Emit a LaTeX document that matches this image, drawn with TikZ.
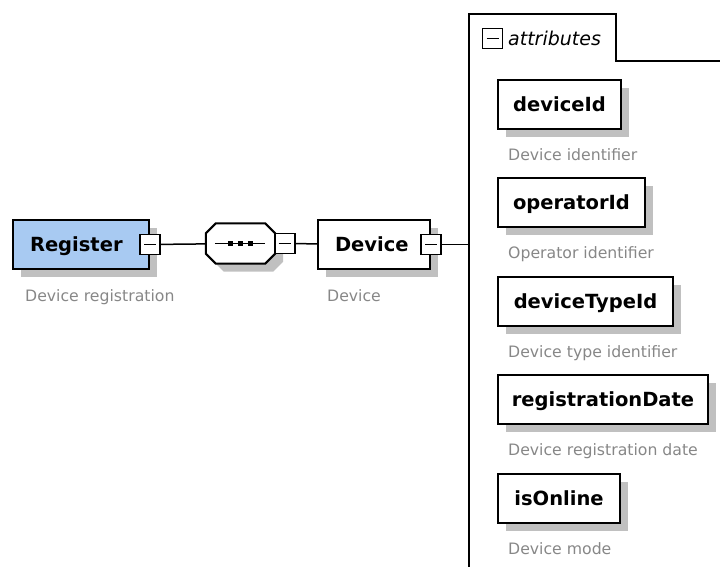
\documentclass[tikz,border=0pt]{standalone}
\usepackage{fontspec}
\setmainfont{DejaVu Sans}
\usetikzlibrary{shadows}
\definecolor{regblue}{RGB}{168,202,242}
\definecolor{shadowgray}{RGB}{192,192,192}
\definecolor{notegray}{RGB}{135,135,135}

\begin{document}
\begin{tikzpicture}[x=1pt,y=-1pt,
  elem/.style={draw=black, line width=2pt, fill=white, inner sep=0pt,
    minimum height=49pt, text height=14pt, text depth=0pt, anchor=north west,
    font=\fontsize{19.5}{22}\selectfont\bfseries,
    drop shadow={shadow xshift=8pt, shadow yshift=-8pt, fill=shadowgray, opacity=1}},
  padded/.style={text width=#1, align=left, inner xsep=17pt},
  note/.style={anchor=base west, inner sep=0pt, text=notegray,
    font=\fontsize{15.7}{18}\selectfont},
  tog/.style={draw=black, fill=white, line width=1.7pt, minimum size=20pt, inner sep=0pt,
    path picture={\draw[line width=1.7pt]
      ([xshift=4pt]path picture bounding box.west) --
      ([xshift=-4pt]path picture bounding box.east);}},
  wire/.style={line width=1.5pt}
]
\useasboundingbox (0,0) rectangle (720,566);

% root element
\node[elem, padded=102pt, fill=regblue] (reg) at (12,219) {Register};
\node[note] (regd) at ([shift={(13,31)}]reg.south west) {Device registration};

% sequence compositor
\node[minimum width=69pt, minimum height=40pt, inner sep=0pt] (seq) at (240.5,243.5) {};
\draw[line width=2pt, fill=white,
      drop shadow={shadow xshift=8pt, shadow yshift=-8pt, fill=shadowgray, opacity=1}]
  ([shift={(0,10)}]seq.north west) -- ([shift={(10,0)}]seq.north west)
  -- ([shift={(-10,0)}]seq.north east) -- ([shift={(0,10)}]seq.north east)
  -- ([shift={(0,-10)}]seq.south east) -- ([shift={(-10,0)}]seq.south east)
  -- ([shift={(10,0)}]seq.south west) -- ([shift={(0,-10)}]seq.south west) -- cycle;
\draw[wire] ([xshift=9pt]seq.west) -- ([xshift=-10pt]seq.east);
\foreach \k in {-10,0,10}
  \fill ([shift={(\k-2.5,-2.5)}]seq.center) rectangle +(5,5);

% child element
\node[elem, padded=78pt] (dev) at (317,219) {Device};
\node[note] (devd) at ([shift={(10,31)}]dev.south west) {Device};

% toggles
\node[tog] (regm) at (reg.east) {};
\node[tog] (seqm) at ([xshift=9.5pt]seq.east) {};
\node[tog] (devm) at (dev.east) {};

% attribute group
\coordinate (grp) at (469,14);
\draw[line width=2pt] (469,580) -- (grp) -- (616,14) -- (616,61) -- (730,61);
\node[tog] (attm) at (492.5,38.5) {};
\node[anchor=base west, inner sep=0pt, font=\fontsize{19}{22}\selectfont\itshape]
  (attl) at (508,45) {attributes};

% connectors
\draw[wire] (regm) -- (seq);
\draw[wire] (seqm) -- (dev);
\draw[wire] (devm) -- (devm -| grp);

% attributes
\node[elem, minimum width=123pt] (a1) at (497,79) {deviceId};
\node[note] at ([shift={(11,30)}]a1.south west) {Device identifier};
\node[elem, minimum width=147pt] (a2) at (497,177) {operatorId};
\node[note] at ([shift={(11,30)}]a2.south west) {Operator identifier};
\node[elem, minimum width=175pt] (a3) at (497,276) {deviceTypeId};
\node[note] at ([shift={(11,30)}]a3.south west) {Device type identifier};
\node[elem, minimum width=210pt] (a4) at (497,374) {registrationDate};
\node[note] at ([shift={(11,30)}]a4.south west) {Device registration date};
\node[elem, minimum width=122pt] (a5) at (497,473) {isOnline};
\node[note] at ([shift={(11,30)}]a5.south west) {Device mode};
\end{tikzpicture}
\end{document}
